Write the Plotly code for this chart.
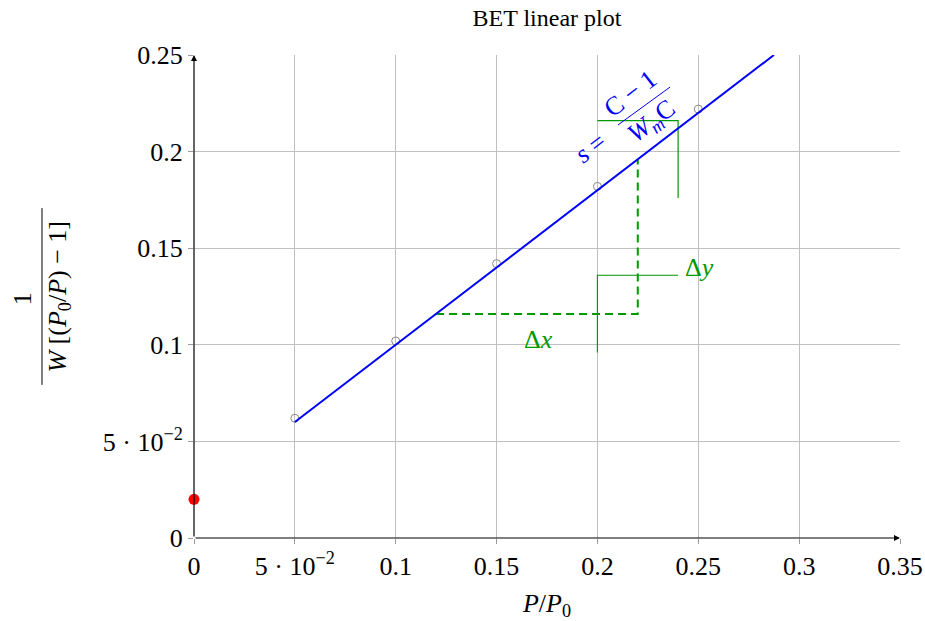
import plotly.graph_objects as go

# data
p_rel = [0.05, 0.10, 0.15, 0.20, 0.25]
bet_y = [0.062, 0.102, 0.142, 0.182, 0.222]
fit_x = [0.05, 0.2875]
fit_y = [0.06, 0.25]
intercept_x = [0.0]
intercept_y = [0.02]
dx_path_x = [0.12, 0.22, 0.22]
dx_path_y = [0.116, 0.116, 0.196]
dy_bracket_x = [0.20, 0.20, 0.24]
dy_bracket_y = [0.096, 0.136, 0.136]
top_bracket_x = [0.20, 0.24, 0.24]
top_bracket_y = [0.216, 0.216, 0.176]
x_ticks = [0, 0.05, 0.1, 0.15, 0.2, 0.25, 0.3, 0.35]
x_ticktext = ["0", "5 · 10<sup>−2</sup>", "0.1", "0.15", "0.2", "0.25", "0.3", "0.35"]
y_ticks = [0, 0.05, 0.1, 0.15, 0.2, 0.25]
y_ticktext = ["0", "5 · 10<sup>−2</sup>", "0.1", "0.15", "0.2", "0.25"]

FONT = "Liberation Serif"
GREEN = "#009900"
ANG = -37.7

fig = go.Figure()
fig.add_trace(go.Scatter(x=dx_path_x, y=dx_path_y, mode="lines",
                         line=dict(color=GREEN, width=2, dash="8px,5px"), showlegend=False))
fig.add_trace(go.Scatter(x=dy_bracket_x, y=dy_bracket_y, mode="lines",
                         line=dict(color=GREEN, width=1.2), showlegend=False))
fig.add_trace(go.Scatter(x=top_bracket_x, y=top_bracket_y, mode="lines",
                         line=dict(color=GREEN, width=1.2), showlegend=False))
fig.add_trace(go.Scatter(x=p_rel, y=bet_y, mode="markers",
                         marker=dict(symbol="circle-open", color="#888888", size=8, line=dict(width=1)),
                         showlegend=False))
fig.add_trace(go.Scatter(x=fit_x, y=fit_y, mode="lines",
                         line=dict(color="blue", width=2), showlegend=False))
fig.add_trace(go.Scatter(x=intercept_x, y=intercept_y, mode="markers",
                         marker=dict(color="red", size=11), cliponaxis=False, showlegend=False))

# axis arrows
fig.add_annotation(x=0.35, y=0, ax=0, ay=0, xref="x", yref="y", axref="x", ayref="y",
                   text="", showarrow=True, arrowhead=2, arrowsize=1, arrowwidth=1.2, arrowcolor="black")
fig.add_annotation(x=0, y=0.25, ax=0, ay=0, xref="x", yref="y", axref="x", ayref="y",
                   text="", showarrow=True, arrowhead=2, arrowsize=1, arrowwidth=1.2, arrowcolor="black")

# labels
fig.add_annotation(x=0.1706, y=0.1025, xref="x", yref="y", text="Δ<i>x</i>", showarrow=False,
                   font=dict(family=FONT, size=26, color=GREEN))
fig.add_annotation(x=0.2425, y=0.14, xref="x", yref="y", text="Δ<i>y</i>", showarrow=False,
                   xanchor="left", font=dict(family=FONT, size=26, color=GREEN))

# slope label (rotated fraction)
fig.add_annotation(x=0.1968, y=0.2019, xref="x", yref="y", text="<i>s</i> =", showarrow=False,
                   textangle=ANG, font=dict(family=FONT, size=26, color="blue"))
fig.add_annotation(x=0.2162, y=0.2303, xref="x", yref="y", text="C − 1", showarrow=False,
                   textangle=ANG, font=dict(family=FONT, size=26, color="blue"))
fig.add_annotation(x=0.2271, y=0.2153, xref="x", yref="y", text="<i>W<sub>m</sub></i>C", showarrow=False,
                   textangle=ANG, font=dict(family=FONT, size=26, color="blue"))
fig.add_shape(type="line", xref="x", yref="y", x0=0.2102, y0=0.2138, x1=0.236, y1=0.2334,
              line=dict(color="blue", width=1))

# y-axis label as fraction
fig.add_annotation(x=-0.265, y=0.495, xref="paper", yref="paper", text="1", showarrow=False,
                   textangle=-90, font=dict(family=FONT, size=26, color="black"))
fig.add_annotation(x=-0.218, y=0.50, xref="paper", yref="paper",
                   text="<i>W</i> [(<i>P</i><sub>0</sub>/<i>P</i>) − 1]", showarrow=False,
                   textangle=-90, font=dict(family=FONT, size=26, color="black"))
fig.add_shape(type="line", xref="paper", yref="paper", x0=-0.2153, x1=-0.2153, y0=0.683, y1=0.317,
              line=dict(color="black", width=1))

fig.update_layout(
    width=925, height=621,
    margin=dict(l=194, r=25, t=55, b=83, autoexpand=False),
    paper_bgcolor="white", plot_bgcolor="white",
    font=dict(family=FONT, size=25, color="black"),
    title=dict(text="BET linear plot", x=0.5913, xanchor="center", y=0.972, yanchor="middle",
               font=dict(family=FONT, size=24)),
    xaxis=dict(range=[0, 0.35], tickvals=x_ticks, ticktext=x_ticktext, showgrid=True,
               gridcolor="#c0c0c0", gridwidth=1, zeroline=False, showline=False,
               ticks="outside", ticklen=5, tickcolor="#999999", automargin=False,
               tickfont=dict(size=26),
               title=dict(text="<i>P</i>/<i>P</i><sub>0</sub>", standoff=14, font=dict(size=26))),
    yaxis=dict(range=[0, 0.25], tickvals=y_ticks, ticktext=y_ticktext, showgrid=True,
               gridcolor="#c0c0c0", gridwidth=1, zeroline=False, showline=False,
               ticks="outside", ticklen=5, tickcolor="#999999", automargin=False,
               tickfont=dict(size=26)),
)

fig.write_html("out.html", config={"displayModeBar": False},
               post_script="document.body.style.margin='0';document.body.style.overflow='hidden';")
